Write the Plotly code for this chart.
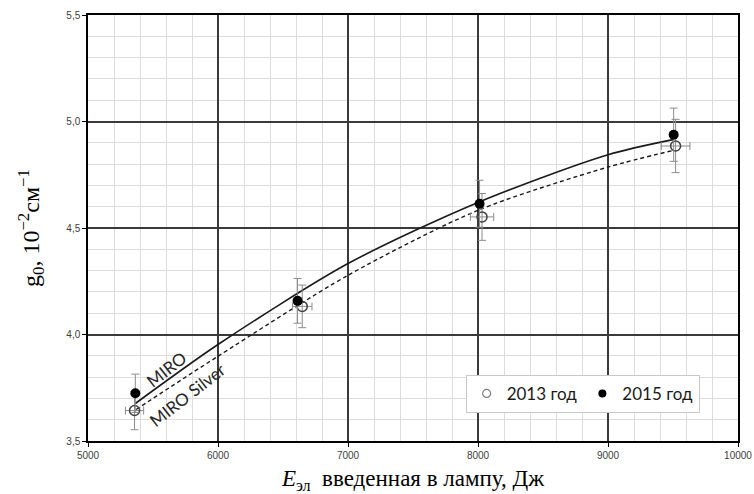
import plotly.graph_objects as go

# Measured gain coefficient g0 vs lamp energy, two measurement campaigns
series_names = ["2013 год", "2015 год"]

e_2013 = [5358, 6648, 8031, 9520]
g_2013 = [3.643, 4.132, 4.552, 4.885]
g_err_2013 = [0.09, 0.10, 0.11, 0.125]
e_err_2013 = [70, 75, 90, 110]

e_2015 = [5364, 6612, 8012, 9505]
g_2015 = [3.724, 4.158, 4.614, 4.938]
g_err_2015 = [0.09, 0.105, 0.11, 0.125]

# Trend curves for the two reflector types
curve_names = ["MIRO", "MIRO Silver"]
miro_e = [5364, 6000, 7000, 8000, 9000, 9500]
miro_g = [3.676, 3.953, 4.333, 4.620, 4.844, 4.915]
silver_e = [5370, 6000, 7000, 8000, 9000, 9500]
silver_g = [3.648, 3.898, 4.278, 4.583, 4.786, 4.864]

x_ticks = [5000, 6000, 7000, 8000, 9000, 10000]
x_tick_text = ["5000", "6000", "7000", "8000", "9000", "10000"]
y_ticks = [3.5, 4.0, 4.5, 5.0, 5.5]
y_tick_text = ["3,5", "4,0", "4,5", "5,0", "5,5"]

fig = go.Figure()

fig.add_trace(go.Scatter(
    x=miro_e, y=miro_g, mode="lines", name=curve_names[0],
    line=dict(color="#1a1a1a", width=1.6, shape="spline", smoothing=0.8),
    showlegend=False, hoverinfo="skip"))
fig.add_trace(go.Scatter(
    x=silver_e, y=silver_g, mode="lines", name=curve_names[1],
    line=dict(color="#1a1a1a", width=1.4, dash="4px,3px", shape="spline", smoothing=0.8),
    showlegend=False, hoverinfo="skip"))

err_style = dict(color="#8c8c8c", thickness=1, width=4)

fig.add_trace(go.Scatter(
    x=e_2013, y=g_2013, mode="markers", name=series_names[0],
    marker=dict(symbol="circle-open", size=10, color="#404040", line=dict(width=1.5)),
    error_y=dict(type="data", array=g_err_2013, visible=True, **err_style),
    error_x=dict(type="data", array=e_err_2013, visible=True, **err_style),
    showlegend=False))
fig.add_trace(go.Scatter(
    x=e_2015, y=g_2015, mode="markers", name=series_names[1],
    marker=dict(symbol="circle", size=10, color="#000000"),
    error_y=dict(type="data", array=g_err_2015, visible=True, **err_style),
    showlegend=False))

# Legend entries with smaller markers
fig.add_trace(go.Scatter(
    x=[None], y=[None], mode="markers", name=series_names[0],
    marker=dict(symbol="circle-open", size=8, color="#7f7f7f", line=dict(width=1.2))))
fig.add_trace(go.Scatter(
    x=[None], y=[None], mode="markers", name=series_names[1],
    marker=dict(symbol="circle", size=8, color="#000000")))

# Curve labels along the lines
fig.add_annotation(x=5601, y=3.836, text=curve_names[0], showarrow=False,
                   textangle=-38, font=dict(family="Lato", size=17, color="#262626"))
fig.add_annotation(x=5768, y=3.719, text=curve_names[1], showarrow=False,
                   textangle=-38, font=dict(family="Lato", size=17, color="#262626"))

tick_font = dict(family="Liberation Sans", size=10, color="#404040")

fig.update_xaxes(
    range=[5000, 10000], tickmode="array", tickvals=x_ticks, ticktext=x_tick_text,
    automargin=False,
    showgrid=True, gridcolor="#3a3a3a", gridwidth=1.5,
    minor=dict(tick0=5000, dtick=200, showgrid=True, gridcolor="#dcdcdc", gridwidth=1),
    showline=True, linecolor="#000000", linewidth=1.5, mirror=True,
    ticks="outside", ticklen=4, tickcolor="#000000", tickfont=tick_font,
    zeroline=False,
    title=dict(text="<i>E</i><sub>эл</sub>  введенная в лампу, Дж",
               font=dict(family="Liberation Serif", size=23, color="#000000"),
               standoff=17))
fig.update_yaxes(
    range=[3.5, 5.5], tickmode="array", tickvals=y_ticks, ticktext=y_tick_text,
    automargin=False,
    showgrid=True, gridcolor="#3a3a3a", gridwidth=1.5,
    minor=dict(tick0=3.5, dtick=0.1, showgrid=True, gridcolor="#dcdcdc", gridwidth=1),
    showline=True, linecolor="#000000", linewidth=1.5, mirror=True,
    ticks="outside", ticklen=4, tickcolor="#000000", tickfont=tick_font,
    zeroline=False,
    title=dict(text="g<sub>0</sub>, 10<sup>−2</sup>см<sup>−1</sup>",
               font=dict(family="Liberation Serif", size=24, color="#000000"),
               standoff=20))

fig.update_layout(
    width=754, height=494,
    margin=dict(l=88, r=16, t=15, b=53),
    paper_bgcolor="#ffffff", plot_bgcolor="#ffffff",
    legend=dict(orientation="h", x=0.941, xanchor="right", y=0.066, yanchor="bottom",
                bgcolor="#ffffff", bordercolor="#c8c8c8", borderwidth=1,
                font=dict(family="Lato", size=17, color="#1a1a1a"),
                itemwidth=30, tracegroupgap=0),
)

fig.write_html("out.html")
